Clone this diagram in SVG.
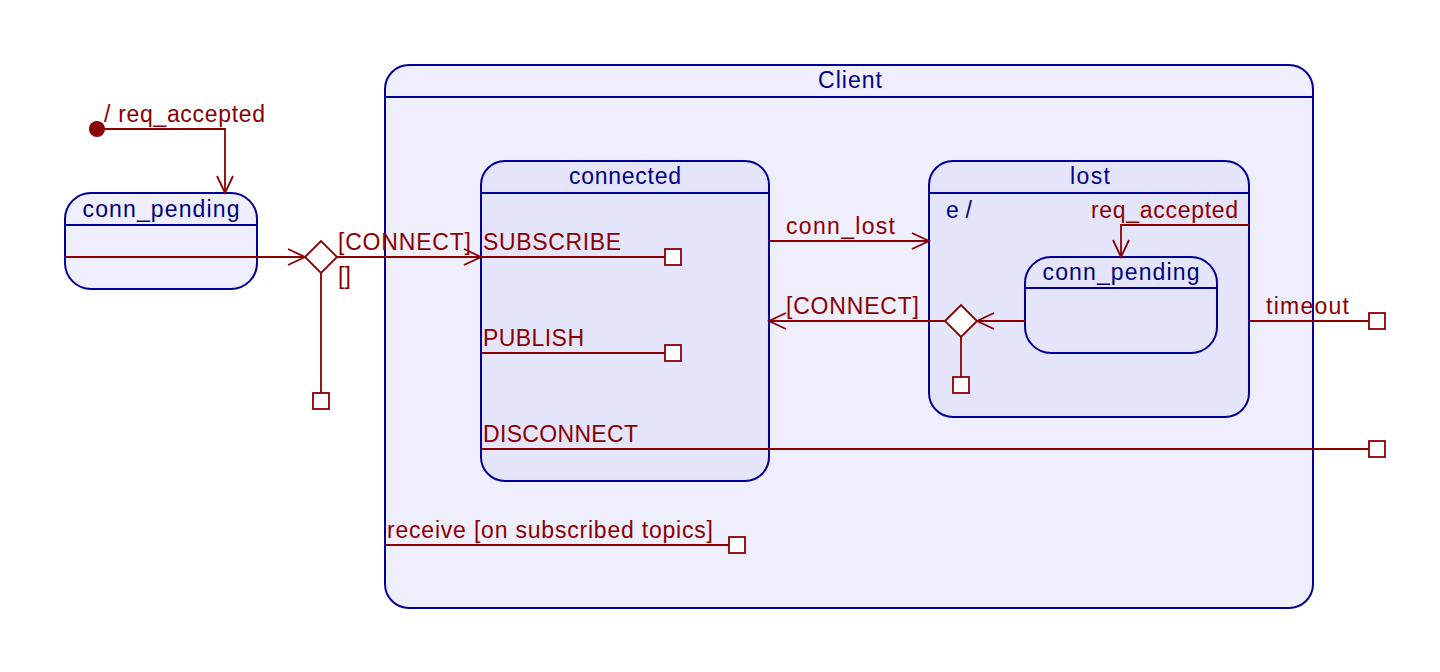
<svg xmlns="http://www.w3.org/2000/svg" width="1440" height="672" viewBox="0 0 1440 672">
<style>
.st{stroke:#000099;stroke-width:2;}
.outer{fill:#EEEEFC;}
.inner{fill:#E4E4FA;}
.sl{fill:#000080;font-family:"Liberation Sans",Arial,sans-serif;font-size:23px;}
.tl{fill:#8B0000;font-family:"Liberation Sans",Arial,sans-serif;font-size:23px;}
.cn{fill:none;stroke:#8B0000;stroke-width:1.8;}
.fin{fill:#FFFFFF;stroke:#8B0000;stroke-width:1.8;}
</style>
<rect width="1440" height="672" fill="#FFFFFF"/>
<g id="client">
<rect class="st outer" x="385" y="65" width="928" height="543" rx="24"/>
<line class="st" x1="385" y1="97" x2="1313" y2="97"/>
<text class="sl" x="850" y="88" text-anchor="middle" textLength="64" lengthAdjust="spacing">Client</text>
</g>
<g id="initial">
<circle cx="97" cy="129" r="8" fill="#8B0000"/>
</g>
<g id="conn_pending_top">
<rect class="st outer" x="65" y="193" width="192" height="96" rx="26"/>
<line class="st" x1="65" y1="225" x2="257" y2="225"/>
<text class="sl" x="161" y="217" text-anchor="middle" textLength="157" lengthAdjust="spacing">conn_pending</text>
</g>
<g id="connected">
<rect class="st inner" x="481" y="161" width="288" height="320" rx="24"/>
<line class="st" x1="481" y1="193" x2="769" y2="193"/>
<text class="sl" x="625" y="184" text-anchor="middle" textLength="112" lengthAdjust="spacing">connected</text>
</g>
<g id="lost">
<rect class="st inner" x="929" y="161" width="320" height="256" rx="24"/>
<line class="st" x1="929" y1="193" x2="1249" y2="193"/>
<text class="sl" x="1090" y="184" text-anchor="middle" textLength="40" lengthAdjust="spacing">lost</text>
<text class="sl" x="946" y="218" textLength="26" lengthAdjust="spacing">e /</text>
</g>
<g id="conn_pending_inner">
<rect class="st inner" x="1025" y="257" width="192" height="96" rx="26"/>
<line class="st" x1="1025" y1="288" x2="1217" y2="288"/>
<text class="sl" x="1121" y="280" text-anchor="middle" textLength="157" lengthAdjust="spacing">conn_pending</text>
</g>
<g id="connectors">
<polyline class="cn" points="97,129 225,129 225,193"/>
<polyline class="cn" points="217,176 225,193 233,176"/>
<text class="tl" x="104" y="122" textLength="161" lengthAdjust="spacing">/ req_accepted</text>
<line class="cn" x1="65" y1="257" x2="305" y2="257"/>
<polyline class="cn" points="288,249 305,257 288,265"/>
<line class="cn" x1="337" y1="257" x2="481" y2="257"/>
<polyline class="cn" points="464,249 481,257 464,265"/>
<text class="tl" x="338" y="250" textLength="133" lengthAdjust="spacing">[CONNECT]</text>
<line class="cn" x1="321" y1="273" x2="321" y2="393"/>
<text class="tl" x="338" y="284" textLength="13" lengthAdjust="spacing">[]</text>
<line class="cn" x1="481" y1="257" x2="665" y2="257"/>
<text class="tl" x="483" y="250" textLength="138" lengthAdjust="spacing">SUBSCRIBE</text>
<line class="cn" x1="481" y1="353" x2="665" y2="353"/>
<text class="tl" x="483" y="346" textLength="101" lengthAdjust="spacing">PUBLISH</text>
<line class="cn" x1="481" y1="449" x2="1369" y2="449"/>
<text class="tl" x="483" y="442" textLength="155" lengthAdjust="spacing">DISCONNECT</text>
<line class="cn" x1="385" y1="545" x2="729" y2="545"/>
<text class="tl" x="387" y="538" textLength="326" lengthAdjust="spacing">receive [on subscribed topics]</text>
<line class="cn" x1="769" y1="241" x2="929" y2="241"/>
<polyline class="cn" points="912,233 929,241 912,249"/>
<text class="tl" x="786" y="234" textLength="109" lengthAdjust="spacing">conn_lost</text>
<polyline class="cn" points="1249,225 1121,225 1121,257"/>
<polyline class="cn" points="1113,240 1121,257 1129,240"/>
<text class="tl" x="1091" y="218" textLength="147" lengthAdjust="spacing">req_accepted</text>
<line class="cn" x1="1025" y1="321" x2="977" y2="321"/>
<polyline class="cn" points="994,313 977,321 994,329"/>
<line class="cn" x1="945" y1="321" x2="769" y2="321"/>
<polyline class="cn" points="786,313 769,321 786,329"/>
<text class="tl" x="786" y="314" textLength="133" lengthAdjust="spacing">[CONNECT]</text>
<line class="cn" x1="961" y1="337" x2="961" y2="377"/>
<line class="cn" x1="1249" y1="321" x2="1369" y2="321"/>
<text class="tl" x="1266" y="314" textLength="83" lengthAdjust="spacing">timeout</text>
</g>
<g id="choice1">
<polygon class="fin" points="305,257 321,241 337,257 321,273"/>
</g>
<g id="choice2">
<polygon class="fin" points="945,321 961,305 977,321 961,337"/>
</g>
<g id="finals">
<rect class="fin" x="313" y="393" width="16" height="16"/>
<rect class="fin" x="665" y="249" width="16" height="16"/>
<rect class="fin" x="665" y="345" width="16" height="16"/>
<rect class="fin" x="1369" y="441" width="16" height="16"/>
<rect class="fin" x="729" y="537" width="16" height="16"/>
<rect class="fin" x="953" y="377" width="16" height="16"/>
<rect class="fin" x="1369" y="313" width="16" height="16"/>
</g>
</svg>
